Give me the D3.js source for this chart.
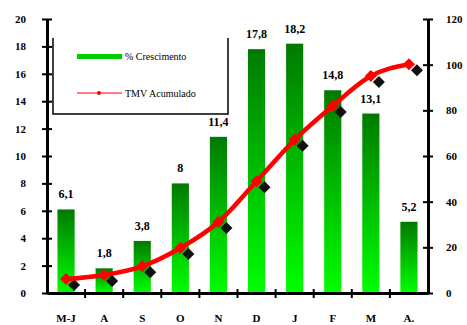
<!DOCTYPE html>
<html>
<head>
<meta charset="utf-8">
<script src="https://cdn.jsdelivr.net/npm/d3@7"></script>
<style>
  body { margin: 0; background: #fff; }
  svg { display: block; }
  text { font-family: "Liberation Serif", "Times New Roman", serif; }
</style>
</head>
<body>
<svg id="chart" width="467" height="325"></svg>
<script>
// categories (months) and series
const months = ["M-J", "A", "S", "O", "N", "D", "J", "F", "M", "A."];
const growth = [6.1, 1.8, 3.8, 8.0, 11.4, 17.8, 18.2, 14.8, 13.1, 5.2];
const growthLabels = ["6,1", "1,8", "3,8", "8", "11,4", "17,8", "18,2", "14,8", "13,1", "5,2"];
const tmvAccum = [6.1, 7.9, 11.7, 19.7, 31.1, 48.9, 67.1, 81.9, 95.0, 100.2];
const leftTicks = [0, 2, 4, 6, 8, 10, 12, 14, 16, 18, 20];
const rightTicks = [0, 20, 40, 60, 80, 100, 120];

const svg = d3.select("#chart");
const margin = {left: 47, right: 39, top: 19, bottom: 32};
const width = 467, height = 325;

const x = d3.scaleBand()
    .domain(months)
    .range([margin.left, width - margin.right])
    .paddingInner(0).paddingOuter(0);

const yL = d3.scaleLinear().domain([0, 20]).range([height - margin.bottom, margin.top]);
const yR = d3.scaleLinear().domain([0, 120]).range([height - margin.bottom, margin.top]);
const cx = (i) => x(months[i]) + x.bandwidth() / 2;

// gradient for the bars
const defs = svg.append("defs");
const grad = defs.append("linearGradient")
    .attr("id", "barGrad")
    .attr("x1", 0).attr("y1", 0).attr("x2", 0).attr("y2", 1);
grad.append("stop").attr("offset", "0%").attr("stop-color", "#007a00");
grad.append("stop").attr("offset", "100%").attr("stop-color", "#00ff00");

/* Bars */
const barW = x.bandwidth() * 0.45;
svg.append("g").selectAll("rect")
    .data(growth)
    .enter().append("rect")
    .attr("x", (d, i) => x(months[i]) + (x.bandwidth() - barW) / 2)
    .attr("y", d => yL(d))
    .attr("width", barW)
    .attr("height", d => yL(0) - yL(d))
    .attr("fill", "url(#barGrad)");

/* Bar labels */
svg.append("g").selectAll("text")
    .data(growth)
    .enter().append("text")
    .attr("x", (d, i) => cx(i))
    .attr("y", d => yL(d) - 11)
    .attr("text-anchor", "middle")
    .style("font-size", "12px")
    .style("font-weight", "bold")
    .text((d, i) => growthLabels[i]);

/* Axes */
const axisColor = "#000";
const axisL = svg.append("g").attr("transform", `translate(${margin.left},0)`)
    .call(d3.axisLeft(yL).tickValues(leftTicks).tickSize(5).tickSizeOuter(0));
const axisR = svg.append("g").attr("transform", `translate(${width - margin.right},0)`)
    .call(d3.axisRight(yR).tickValues(rightTicks).tickSize(5).tickSizeOuter(0));
const axisB = svg.append("g").attr("transform", `translate(0,${yL(0)})`)
    .call(d3.axisBottom(x).tickSize(0).tickSizeOuter(0));

[axisL, axisR, axisB].forEach(a => {
  a.attr("font-family", null);
  a.select(".domain").attr("stroke", axisColor).attr("stroke-width", 3);
  a.selectAll(".tick line").attr("stroke", axisColor).attr("stroke-width", 2);
  a.selectAll("text")
    .style("font-size", "11px")
    .style("font-weight", "bold")
    .attr("fill", "#000");
});
// ticks crossing vertical axes
axisL.selectAll(".tick line").attr("x1", 5).attr("x2", -5);
axisL.selectAll(".tick text").attr("x", -21);
axisR.selectAll(".tick line").attr("x1", -5).attr("x2", 5);
axisR.selectAll(".tick text").attr("x", 18);
axisB.selectAll(".tick text").attr("y", 21);

// category boundary ticks under x axis
svg.append("g").selectAll("line")
    .data(months.slice(1))
    .enter().append("line")
    .attr("x1", d => x(d)).attr("x2", d => x(d))
    .attr("y1", yL(0) - 4).attr("y2", yL(0) + 5)
    .attr("stroke", axisColor).attr("stroke-width", 2);

/* TMV line */
const line = d3.line()
    .x((d, i) => cx(i))
    .y(d => yR(d))
    .curve(d3.curveMonotoneX);

const diamond = d3.symbol().type(d3.symbolSquare).size(72);

// shadow markers
svg.append("g").selectAll("path")
    .data(tmvAccum)
    .enter().append("path")
    .attr("d", diamond)
    .attr("transform", (d, i) => `translate(${cx(i) + 8},${yR(d) + 6}) rotate(45)`)
    .attr("fill", "#111");

svg.append("path")
    .datum(tmvAccum)
    .attr("d", line)
    .attr("fill", "none")
    .attr("stroke", "#ff0000")
    .attr("stroke-width", 4.5)
    .attr("stroke-linejoin", "round");

svg.append("g").selectAll("path")
    .data(tmvAccum)
    .enter().append("path")
    .attr("d", diamond)
    .attr("transform", (d, i) => `translate(${cx(i)},${yR(d)}) rotate(45)`)
    .attr("fill", "#ff0000");

/* Legend */
const lg = svg.append("g");
lg.append("path")
    .attr("d", "M53,38 V114 H228 V38")
    .attr("fill", "none")
    .attr("stroke", "#000")
    .attr("stroke-width", 1.5);
lg.append("rect")
    .attr("x", 77).attr("y", 54).attr("width", 45).attr("height", 5)
    .attr("fill", "#00cc00");
lg.append("text")
    .attr("x", 125).attr("y", 60)
    .style("font-size", "10px")
    .text("% Crescimento");
lg.append("line")
    .attr("x1", 77).attr("x2", 122).attr("y1", 93).attr("y2", 93)
    .attr("stroke", "#ff0000").attr("stroke-width", 1);
lg.append("circle")
    .attr("cx", 99).attr("cy", 93).attr("r", 2)
    .attr("fill", "#ff0000");
lg.append("text")
    .attr("x", 125).attr("y", 97)
    .style("font-size", "10px")
    .text("TMV Acumulado");
</script>
</body>
</html>
